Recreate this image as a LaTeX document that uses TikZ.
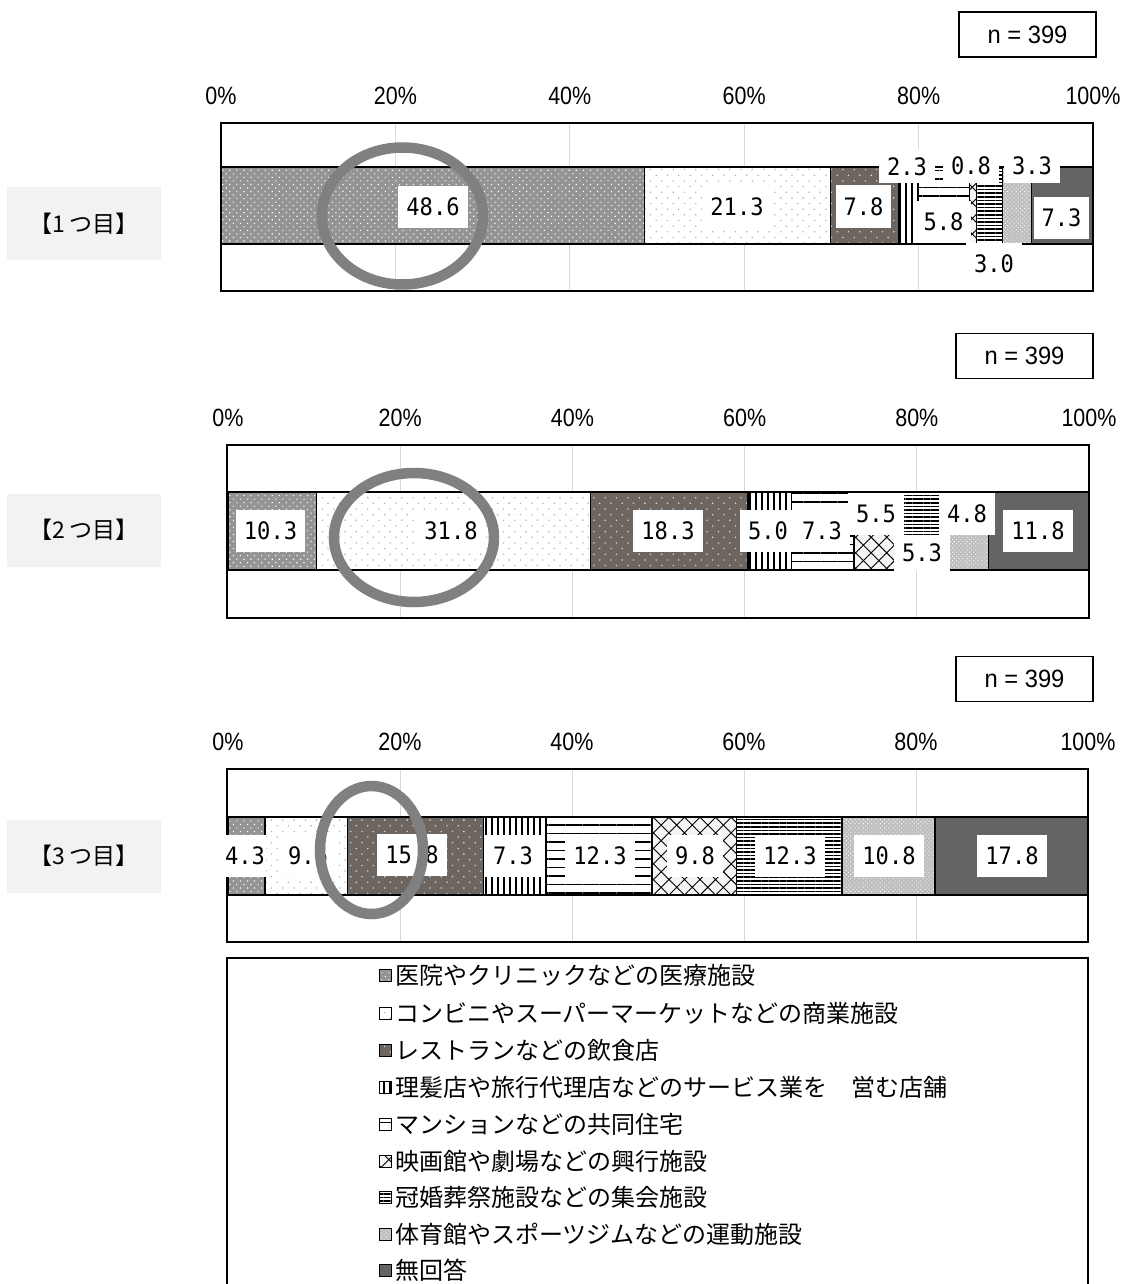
\documentclass[tikz,border=0pt]{standalone}
\usepackage{fontspec}
\newfontfamily\jp{Noto Sans CJK JP}
\newfontfamily\numf[FakeStretch=0.92]{DejaVu Sans Mono}
\newfontfamily\axf[FakeStretch=0.86]{Liberation Sans}
\newfontfamily\nf[FakeStretch=0.95]{Liberation Sans}
\usetikzlibrary{patterns.meta}
\definecolor{cthree}{RGB}{108,101,96}
\definecolor{cnine}{RGB}{100,100,100}
\definecolor{ringc}{RGB}{128,128,128}
\definecolor{gridc}{RGB}{217,217,217}
\definecolor{tagc}{RGB}{242,242,242}
\tikzset{
  seg/.style={draw=black, line width=1.2pt},
  pa/.style={seg, preaction={fill=black!42}, pattern={Dots[radius=0.8pt,distance=5pt,angle=45]}, pattern color=white},
  pb/.style={seg, preaction={fill=white}, pattern={Dots[radius=0.9pt,distance=8pt,angle=45]}, pattern color=gray!60},
  pc/.style={seg, preaction={fill=cthree}, pattern={Dots[radius=0.9pt,distance=8pt,angle=45]}, pattern color=gray!30},
  pd/.style={seg, preaction={fill=white}, pattern={Lines[angle=90,distance=6pt,line width=1.6pt]}, pattern color=black},
  pe/.style={seg, preaction={fill=white}, pattern={Lines[angle=0,distance=8.5pt,line width=1.6pt]}, pattern color=black},
  pf/.style={seg, preaction={fill=gray!8}, pattern={Hatch[angle=45,distance=11pt,line width=0.9pt]}, pattern color=black},
  pg/.style={seg, preaction={fill=white}, pattern={Lines[angle=0,distance=3.6pt,line width=1.5pt]}, pattern color=black},
  ph/.style={seg, preaction={fill=gray!50}, pattern={Dots[radius=0.6pt,distance=3pt,angle=45]}, pattern color=white},
  pi/.style={seg, fill=cnine},
  lab/.style={fill=white, font=\numf\fontsize{24}{28}\selectfont, inner xsep=8pt, inner ysep=0pt, minimum height=42pt},
  labs/.style={lab, minimum height=34pt},
  ax/.style={font=\axf\fontsize{25}{28}\selectfont, inner sep=0pt},
  nbox/.style={draw, line width=1.2pt, font=\nf\fontsize{25}{28}\selectfont, minimum width=137pt, minimum height=45pt, inner sep=0pt},
  tagbox/.style={fill=tagc, font=\jp\fontsize{23}{27}\selectfont, minimum width=154pt, minimum height=73pt, inner sep=0pt},
  frame/.style={draw=black, line width=1.2pt, fill=white},
  gridl/.style={draw=gridc, line width=1pt},
  ring/.style={draw=ringc, line width=10.5pt},
  leg/.style={font=\jp\fontsize{24}{28}\selectfont, anchor=west, inner sep=0pt},
}
\begin{document}
\begin{tikzpicture}[x=1pt,y=-1pt]
\useasboundingbox[fill=white] (0,0) rectangle (1121,1284);

% ---------- chart 1 ----------
\node[nbox] (n1) at (1027.5,34.5) {n = 399};
\foreach \p [count=\i] in {0,20,40,60,80,100}
  \node[ax] (ax1\i) at ({221+8.72*\p},96) {\p\%};
\path[frame] (221,123) rectangle (1093,291);
\foreach \k in {1,2,3,4}
  \draw[gridl] ({221+174.4*\k},124) -- ({221+174.4*\k},290);
\path[pa] (221,167) rectangle (644.8,244);
\path[pb] (644.8,167) rectangle (830.5,244);
\path[pc] (830.5,167) rectangle (898.5,244);
\path[pd] (898.5,167) rectangle (918.6,244);
\path[pe] (918.6,167) rectangle (969.2,244);
\path[pf] (969.2,167) rectangle (976.2,244);
\path[pg] (976.2,167) rectangle (1002.3,244);
\path[ph] (1002.3,167) rectangle (1031.1,244);
\path[pi] (1031.1,167) rectangle (1093,244);
\node[lab] (v11) at (433,207) {48.6};
\node[lab] (v12) at (737,207) {21.3};
\node[lab] (v13) at (863.5,206.5) {7.8};
\node[labs] (v14) at (907,166.5) {2.3};
\node[lab] (v15) at (943.5,222) {5.8};
\node[labs] (v16) at (971,166) {0.8};
\node[lab] (v17) at (994,264) {3.0};
\node[labs] (v18) at (1032,166) {3.3};
\node[lab] (v19) at (1061.5,218) {7.3};
\draw[ring] (402.5,216) ellipse [x radius=80.5pt, y radius=68.5pt];
\node[tagbox] (t1) at (84,223.5) {【1 つ目】};

% ---------- chart 2 ----------
\node[nbox] (n2) at (1024.5,356) {n = 399};
\foreach \p [count=\i] in {0,20,40,60,80,100}
  \node[ax] (ax2\i) at ({228+8.61*\p},418) {\p\%};
\path[frame] (227,445) rectangle (1089,618);
\foreach \k in {1,2,3,4}
  \draw[gridl] ({228+172.2*\k},446) -- ({228+172.2*\k},617);
\path[pa] (228,492) rectangle (316.7,570);
\path[pb] (316.7,492) rectangle (590.5,570);
\path[pc] (590.5,492) rectangle (748.0,570);
\path[pd] (748.0,492) rectangle (791.1,570);
\path[pe] (791.1,492) rectangle (853.9,570);
\path[pf] (853.9,492) rectangle (901.3,570);
\path[pg] (901.3,492) rectangle (942.6,570);
\path[ph] (942.6,492) rectangle (988.3,570);
\path[pi] (988.3,492) rectangle (1089,570);
\node[lab] (v21) at (270.5,530.5) {10.3};
\node[lab] (v22) at (451,531) {31.8};
\node[lab] (v23) at (668,531) {18.3};
\node[lab] (v24) at (768,531) {5.0};
\node[lab] (v25) at (822,531) {7.3};
\node[lab] (v26) at (876,514) {5.5};
\node[lab] (v27) at (967,514) {4.8};
\node[lab, minimum height=36pt] (v28) at (922,553) {5.3};
\node[lab] (v29) at (1038,531) {11.8};
\draw[ring] (414,537.5) ellipse [x radius=80pt, y radius=64.5pt];
\node[tagbox] (t2) at (84,530) {【2 つ目】};

% ---------- chart 3 ----------
\node[nbox] (n3) at (1024.5,679) {n = 399};
\foreach \p [count=\i] in {0,20,40,60,80,100}
  \node[ax] (ax3\i) at ({228+8.6*\p},742) {\p\%};
\path[frame] (227,769) rectangle (1088,942);
\foreach \k in {1,2,3,4}
  \draw[gridl] ({228+172*\k},770) -- ({228+172*\k},941);
\path[pa] (228,817) rectangle (265.0,895);
\path[pb] (265.0,817) rectangle (347.5,895);
\path[pc] (347.5,817) rectangle (483.4,895);
\path[pd] (483.4,817) rectangle (546.2,895);
\path[pe] (546.2,817) rectangle (652.0,895);
\path[pf] (652.0,817) rectangle (736.3,895);
\path[pg] (736.3,817) rectangle (842.0,895);
\path[ph] (842.0,817) rectangle (934.9,895);
\path[pi] (934.9,817) rectangle (1088,895);
\node[lab, inner xsep=1pt] (v31) at (245,856) {4.3};
\node[lab] (v32) at (308,856) {9.6};
\node[lab] (v33) at (412,855) {15.8};
\node[lab] (v34) at (513,856) {7.3};
\node[lab] (v35) at (600,856) {12.3};
\node[lab] (v36) at (695,856) {9.8};
\node[lab] (v37) at (790,856) {12.3};
\node[lab] (v38) at (889,856) {10.8};
\node[lab] (v39) at (1012,856) {17.8};
\draw[ring] (371.5,850) ellipse [x radius=51.5pt, y radius=64pt];
\node[tagbox] (t3) at (84,856) {【3 つ目】};

% ---------- legend ----------
\draw[line width=1.2pt] (227,958) rectangle (1088,1290);
\path[pa, line width=0.8pt] (379,969) rectangle (391,981);
\node[leg] (g1) at (395,975) {医院やクリニックなどの医療施設};
\path[pb, line width=0.8pt] (379,1007) rectangle (391,1019);
\node[leg] (g2) at (395,1013) {コンビニやスーパーマーケットなどの商業施設};
\path[pc, line width=0.8pt] (379,1044) rectangle (391,1056);
\node[leg] (g3) at (395,1050) {レストランなどの飲食店};
\path[pd, line width=0.8pt] (379,1081) rectangle (391,1093);
\node[leg] (g4) at (395,1087) {理髪店や旅行代理店などのサービス業を　営む店舗};
\path[pe, line width=0.8pt] (379,1118) rectangle (391,1130);
\node[leg] (g5) at (395,1124) {マンションなどの共同住宅};
\path[pf, line width=0.8pt] (379,1155) rectangle (391,1167);
\node[leg] (g6) at (395,1161) {映画館や劇場などの興行施設};
\path[pg, line width=0.8pt] (379,1191) rectangle (391,1203);
\node[leg] (g7) at (395,1197) {冠婚葬祭施設などの集会施設};
\path[ph, line width=0.8pt] (379,1228) rectangle (391,1240);
\node[leg] (g8) at (395,1234) {体育館やスポーツジムなどの運動施設};
\path[pi, line width=0.8pt] (379,1264) rectangle (391,1276);
\node[leg] (g9) at (395,1270) {無回答};
\end{tikzpicture}
\end{document}
